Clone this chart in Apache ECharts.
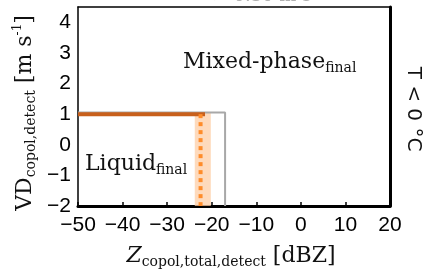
<!DOCTYPE html>
<html>
<head>
<meta charset="utf-8">
<script src="https://cdn.jsdelivr.net/npm/echarts@6/dist/echarts.min.js"></script>
<style>
  html, body { margin: 0; padding: 0; background: #fff; }
  #chart { width: 425px; height: 270px; }
</style>
</head>
<body>
<div id="chart"></div>
<script>
// threshold lines
const grayLine = [[-50, 1.05], [-17, 1.05], [-17, -2]]
const orangeLine = [[-50, 1], [-21.5, 1]]
const dottedLine = [[-22.5, 1], [-22.5, -2]]
const band = [-23.8, -20.2]
const xTicks = [-50, -40, -30, -20, -10, 0, 10, 20]
const yTicks = [-2, -1, 0, 1, 2, 3, 4]

const chart = echarts.init(document.getElementById('chart'))

const minus = v => String(v).replace('-', '\u2212')
const tickFont = {
  fontFamily: 'Liberation Sans',
  fontSize: 21,
  color: '#000'
}
const serif = 'DejaVu Serif'
const richMain = {fontFamily: serif, fontSize: 22, lineHeight: 26, fill: '#111'}
const richSub = {fontFamily: serif, fontSize: 14, lineHeight: 10, verticalAlign: 'bottom', fill: '#111'}

const options = {
  animation: false,
  grid: {left: 78, right: 35, top: 7, bottom: 64},
  xAxis: [{
    type: 'value',
    min: xTicks[0],
    max: xTicks[xTicks.length - 1],
    interval: 10,
    axisLine: {show: true, onZero: false, lineStyle: {color: '#000', width: 3}},
    axisTick: {show: true, inside: true, length: 4, lineStyle: {color: '#000', width: 1.5}},
    splitLine: {show: false},
    axisLabel: Object.assign({margin: 9, formatter: minus}, tickFont)
  }, {
    type: 'value',
    position: 'top',
    min: xTicks[0],
    max: xTicks[xTicks.length - 1],
    axisLine: {show: true, onZero: false, lineStyle: {color: '#000', width: 1.5}},
    axisTick: {show: false},
    axisLabel: {show: false},
    splitLine: {show: false}
  }],
  yAxis: [{
    type: 'value',
    min: yTicks[0],
    max: 4.5,
    interval: 1,
    axisLine: {show: true, onZero: false, lineStyle: {color: '#000', width: 1.5}},
    axisTick: {show: false},
    splitLine: {show: false},
    axisLabel: Object.assign({
      margin: 7,
      formatter: v => (yTicks.indexOf(v) >= 0 ? minus(v) : '')
    }, tickFont)
  }, {
    type: 'value',
    position: 'right',
    min: yTicks[0],
    max: 4.5,
    axisLine: {show: true, onZero: false, lineStyle: {color: '#000', width: 3}},
    axisTick: {show: false},
    axisLabel: {show: false},
    splitLine: {show: false}
  }],
  series: [
    {
      type: 'line',
      data: grayLine,
      symbol: 'none',
      z: 2,
      lineStyle: {color: '#a8a8a8', width: 2},
      markArea: {
        silent: true,
        itemStyle: {color: 'rgba(253, 205, 165, 0.75)'},
        data: [[{coord: [band[0], 1.05]}, {coord: [band[1], -2]}]]
      }
    },
    {
      type: 'line',
      data: orangeLine,
      symbol: 'none',
      z: 3,
      lineStyle: {color: '#c8601c', width: 4}
    },
    {
      type: 'line',
      data: dottedLine,
      symbol: 'none',
      z: 4,
      lineStyle: {color: '#ff8c2a', width: 4, type: [4, 4]}
    }
  ],
  graphic: [
    {
      type: 'text', left: 183, top: 51,
      style: {
        text: '{m|Mixed-phase}{s|final}',
        rich: {m: richMain, s: richSub}
      }
    },
    {
      type: 'text', left: 85, top: 153,
      style: {
        text: '{m|Liquid}{s|final}',
        rich: {m: richMain, s: richSub}
      }
    },
    {
      type: 'text', x: 231, y: 256,
      style: {
        text: '{z|Z}{s|copol,total,detect}{m| [dBZ]}',
        align: 'center', verticalAlign: 'middle',
        rich: {
          z: Object.assign({}, richMain, {fontStyle: 'italic'}),
          m: richMain,
          s: richSub
        }
      }
    },
    {
      type: 'text', x: 25, y: 113, rotation: Math.PI / 2,
      style: {
        text: '{m|VD}{s|copol,detect}{m| [m s}{u|-1}{m|]}',
        align: 'center', verticalAlign: 'middle',
        rich: {
          m: richMain,
          s: richSub,
          u: {fontFamily: serif, fontSize: 12, lineHeight: 14, verticalAlign: 'top', fill: '#111'}
        }
      }
    },
    {
      type: 'text', x: 413, y: 109, rotation: -Math.PI / 2,
      style: {
        text: 'T < 0 °C',
        align: 'center', verticalAlign: 'middle',
        fontFamily: 'DejaVu Sans', fontSize: 20, fill: '#111'
      }
    },
    {
      type: 'text', x: 262, y: -4,
      style: {
        text: '> 0.30 m s',
        align: 'center', verticalAlign: 'middle',
        fontFamily: serif, fontSize: 18, fill: '#b0b0b0'
      }
    }
  ]
}
chart.setOption(options)
</script>
</body>
</html>
